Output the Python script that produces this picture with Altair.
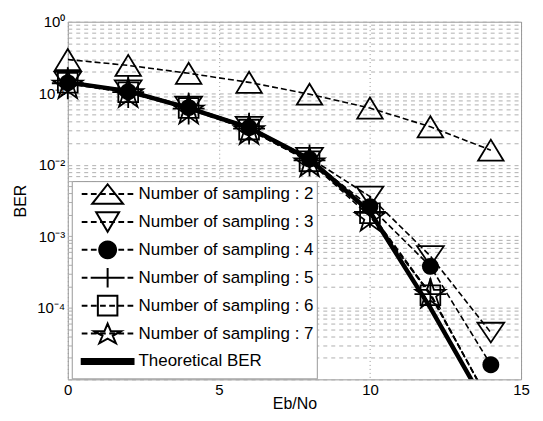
import math
import altair as alt
import pandas as pd

# ---------------- data ----------------
ebno = [0, 2, 4, 6, 8, 10, 12, 14]
ber_n2 = [0.296, 0.245, 0.19, 0.142, 0.097, 0.062, 0.034, 0.016]
ber_n3 = [0.145, 0.11, 0.065, 0.034, 0.0125, 0.0036, 5.3e-4, 4.5e-5]
ber_n4 = [0.14, 0.105, 0.063, 0.033, 0.012, 0.0026, 3.8e-4, 1.6e-5]
ber_n5 = [0.138, 0.104, 0.061, 0.032, 0.0115, 0.0022, 1.55e-4, 4.5e-6]
ber_n6 = [0.14, 0.103, 0.062, 0.031, 0.0112, 0.0021, 1.5e-4, 4.5e-6]
ber_n7 = [0.135, 0.102, 0.06, 0.031, 0.011, 0.0019, 1.6e-4, 4.3e-6]
ber_theory = [0.142, 0.107, 0.062, 0.033, 0.012, 0.0022, 1.0e-4, 3.3e-6]

series_labels = [
    "Number of sampling : 2",
    "Number of sampling : 3",
    "Number of sampling : 4",
    "Number of sampling : 5",
    "Number of sampling : 6",
    "Number of sampling : 7",
    "Theoretical BER",
]
series_values = [ber_n2, ber_n3, ber_n4, ber_n5, ber_n6, ber_n7, ber_theory]

rows = []
for lab, vals in zip(series_labels, series_values):
    for x, v in zip(ebno, vals):
        rows.append({"series": lab, "ebno": x, "ber": v})
df = pd.DataFrame(rows)

# ---------------- marker geometry (style) ----------------
def fmt(v):
    return f"{v:.3f}"

def circle_path(r):
    pts = []
    for i in range(24):
        ang = 2 * math.pi * i / 24
        pts.append((r * math.cos(ang), r * math.sin(ang)))
    return "M" + "L".join(f"{fmt(px)},{fmt(py)}" for px, py in pts) + "Z"

def star_path(R, sx=1.0, dy=0.0):
    pts = []
    for i in range(10):
        ang = math.radians(-90 + 36 * i)
        rad = R if i % 2 == 0 else R * 0.382
        pts.append((sx * rad * math.cos(ang), rad * math.sin(ang) + dy))
    return "M" + "L".join(f"{fmt(px)},{fmt(py)}" for px, py in pts) + "Z"

# plot markers (size 1024 -> 1 unit = 16 px)
plot_shapes = [
    "M0,-0.66L0.8,0.66L-0.8,0.66Z",
    "M-0.84,-0.62L0.84,-0.62L0,0.62Z",
    circle_path(0.53),
    "M-1,0H1M0,-1V1",
    "M-0.62,-0.62H0.62V0.62H-0.62Z",
    star_path(0.98, 1.0, 0.09),
]
plot_filled = [False, False, True, False, False, False]

# legend symbols: geometry in pixels, converted to symbol units
LEG_SIZE = 324
u = math.sqrt(LEG_SIZE) / 2.0  # pixels per path unit


def p(px):
    return fmt(px / u)


half = 26.0
vv = 9.85
dash, gap = 5.75, 3.45
segs = []
a = -half
while a < half:
    b = min(a + dash, half)
    segs.append(f"M{p(a)},0H{p(b)}")
    a = b + gap
dashes = "".join(segs)
frame = f"M{p(-39.3)},{p(-vv)}M{p(-39.3)},{p(vv)}M{p(half)},{p(-vv)}M{p(half)},{p(vv)}"

legend_shapes = [
    frame + dashes + f"M0,{p(-vv)}L{p(15.5)},{p(vv)}L{p(-15.5)},{p(vv)}Z",
    frame + dashes + f"M{p(-11.5)},{p(-vv)}L{p(11.5)},{p(-vv)}L0,{p(vv)}Z",
    frame + dashes + circle_path(8.5 / u),
    frame + dashes + f"M{p(-17)},0H{p(17)}M0,{p(-vv)}V{p(vv)}",
    frame + dashes + f"M{p(-9.8)},{p(-vv)}H{p(9.8)}V{p(vv)}H{p(-9.8)}Z",
    frame + dashes + star_path(10.9 / u, 1.3, 0.99 / u),
    frame + f"M{p(-half)},{p(-2.5)}H{p(half)}V{p(2.5)}H{p(-half)}Z",
]
legend_fills = ["transparent", "transparent", "black", "transparent",
                "transparent", "transparent", "black"]

# ---------------- axes ----------------
FONT = "Liberation Sans"
y_ticks = []
for e in range(-5, 1):
    y_ticks.append(10.0 ** e)
    if e < 0:
        for k in range(2, 10):
            y_ticks.append(k * 10.0 ** e)

label_expr = (
    "abs(log(datum.value)/LN10 - round(log(datum.value)/LN10)) < 0.001 "
    "&& datum.value > 0.00005 ? '10' + "
    "['\u2070','\u207b\u00b9','\u207b\u00b2','\u207b\u00b3','\u207b\u2074']"
    "[-round(log(datum.value)/LN10)] : ''"
)

x_enc = alt.X(
    "ebno:Q",
    scale=alt.Scale(domain=[0, 15], nice=False, zero=False),
    axis=alt.Axis(
        values=[0, 5, 10, 15], format="d", title="Eb/No", ticks=False,
        domain=False, labelPadding=3, labelFontSize=15, titleFontSize=16,
        titleFontWeight="normal", titlePadding=1, minExtent=15, maxExtent=15,
        grid=True, gridDash=[1, 3], gridColor="#999", labelFlush=False,
    ),
)
y_enc = alt.Y(
    "ber:Q",
    scale=alt.Scale(type="log", domain=[1e-5, 1], nice=False),
    axis=alt.Axis(
        values=y_ticks, labelExpr=label_expr, title="BER", ticks=False,
        domain=False, labelPadding=3, labelFontSize=15, titleFontSize=16,
        titleFontWeight="normal", titlePadding=9, minExtent=30, maxExtent=30,
        grid=True, gridDash=[4, 4], gridColor="#b0b0b0", labelFlush=False,
    ),
)

base = alt.Chart(df)

theory_line = base.transform_filter(
    alt.datum.series == "Theoretical BER"
).mark_line(color="black", strokeWidth=4.5, clip=True).encode(x=x_enc, y=y_enc)

dashed_lines = base.transform_filter(
    alt.datum.series != "Theoretical BER"
).mark_line(color="black", strokeWidth=1.6, strokeDash=[6, 3], clip=True).encode(
    x=x_enc, y=y_enc, detail="series:N"
)

point_layers = []
for lab, shp, fil in zip(series_labels[:6], plot_shapes, plot_filled):
    point_layers.append(
        base.transform_filter(
            (alt.datum.series == lab) & (alt.datum.ber >= 1e-5)
        ).mark_point(
            shape=shp, size=1024, filled=fil, color="black",
            strokeWidth=1.8, opacity=1,
        ).encode(x=x_enc, y=y_enc)
    )

legend_kw = dict(
    orient="none", legendX=4, legendY=160, title=None,
    labelFont=FONT, labelFontSize=17, labelColor="black",
    labelLimit=400, symbolSize=LEG_SIZE, symbolStrokeWidth=2,
    symbolOffset=23, labelOffset=21, padding=3, rowPadding=0,
    strokeColor="#999", fillColor="white",
)

legend_layer = base.transform_filter("false").mark_point(
    size=LEG_SIZE, filled=False, stroke="black", strokeWidth=2, opacity=1,
).encode(
    x=x_enc,
    y=y_enc,
    shape=alt.Shape(
        "series:N",
        scale=alt.Scale(domain=series_labels, range=legend_shapes),
        legend=alt.Legend(**legend_kw),
    ),
    fill=alt.Fill(
        "series:N",
        scale=alt.Scale(domain=series_labels, range=legend_fills),
        legend=alt.Legend(**legend_kw),
    ),
)

chart = alt.layer(theory_line, dashed_lines, *point_layers, legend_layer).properties(
    width=455,
    height=359,
    padding={"left": 5, "top": 6, "right": 5, "bottom": 0},
).configure_view(
    stroke="#999", strokeWidth=1
).configure_axis(
    labelFont=FONT, titleFont=FONT, labelColor="black", titleColor="black"
)

chart.save("out.html", embed_options={"renderer": "svg", "actions": False})
